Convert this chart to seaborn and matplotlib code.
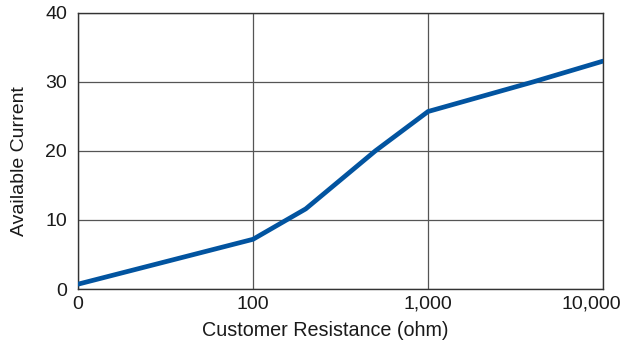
import numpy as np
import pandas as pd
import seaborn as sns
import matplotlib.pyplot as plt
from matplotlib.transforms import ScaledTranslation

# --- DATA ---
RESISTANCE = [0, 100, 200, 500, 1000, 4000, 10000]
CURRENT = [0.7, 7.2, 11.6, 20.0, 25.7, 30.0, 33.0]
X_TICKS = [0, 100, 1000, 10000]
X_TICK_LABELS = ["0", "100", "1,000", "10,000"]
Y_TICKS = [0, 10, 20, 30, 40]

LINE_COLOR = "#0254a0"
TEXT_COLOR = "#1a1a1a"

sns.set_theme(style="white")
plt.rcParams['font.family'] = ['Liberation Sans', 'DejaVu Sans']


def to_pos(r):
    # decade spacing, with 0 sitting where 10 would be
    return np.log10(np.maximum(np.asarray(r, dtype=float), 10)) - 1


df = pd.DataFrame({"pos": to_pos(RESISTANCE), "current": CURRENT})

fig = plt.figure(figsize=(6.23, 3.45), dpi=100)
ax = fig.add_axes([0.1252, 0.1623, 0.8428, 0.8007])

sns.lineplot(data=df, x="pos", y="current", color=LINE_COLOR, linewidth=3.4,
             ax=ax, zorder=3, solid_joinstyle="miter")

ax.set_xlim(0, 3)
ax.set_ylim(0, 40)
ax.set_xticks(to_pos(X_TICKS))
ax.set_xticklabels(X_TICK_LABELS)
ax.set_yticks(Y_TICKS)
ax.grid(True, color="#555555", linewidth=0.9)
ax.tick_params(axis="x", length=0, labelsize=14, colors=TEXT_COLOR, pad=5)
ax.tick_params(axis="y", length=0, labelsize=14, colors=TEXT_COLOR, pad=8)
for s in ax.spines.values():
    s.set_color("#333333")
    s.set_linewidth(1.0)

# last label nudged left so it stays inside the figure
last = ax.get_xticklabels()[-1]
last.set_transform(last.get_transform() + ScaledTranslation(-0.12, 0, fig.dpi_scale_trans))

ax.set_xlabel("Customer Resistance (ohm)", fontsize=14.2, color=TEXT_COLOR, va="center")
ax.set_ylabel("Available Current", fontsize=14, color=TEXT_COLOR, va="center")
ax.xaxis.set_label_coords(0.4705, -0.152)
ax.yaxis.set_label_coords(-0.111, 0.464)

fig.savefig("out.png", dpi=100)
